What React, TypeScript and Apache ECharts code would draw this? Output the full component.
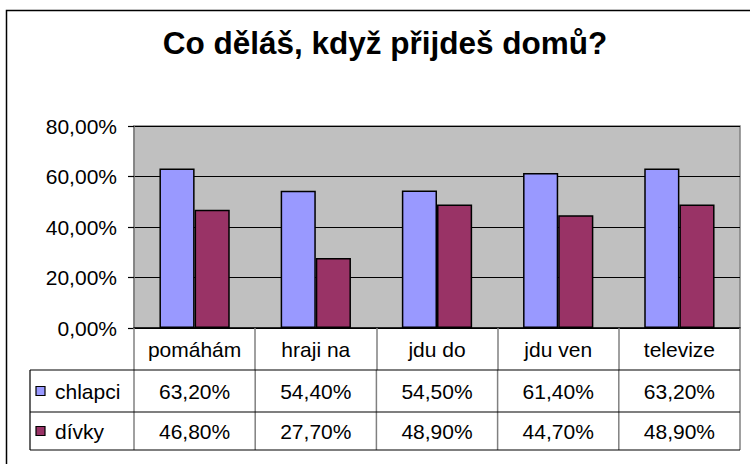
import React, { useEffect, useRef } from "react";
import * as echarts from "echarts";

const title = "Co děláš, když přijdeš domů?";
const categories = ["pomáhám", "hraji na", "jdu do", "jdu ven", "televize"];
const seriesNames = ["chlapci", "dívky"];
const chlapci = [63.2, 54.4, 54.5, 61.4, 63.2];
const divky = [46.8, 27.7, 48.9, 44.7, 48.9];
const colors = ["#9999FF", "#993366"];

const FONT = "'Liberation Sans', Arial, sans-serif";
const fmt = (v: number, d: number) => v.toFixed(d).replace(".", ",") + "%";

export default function App() {
  const ref = useRef<HTMLDivElement>(null);
  useEffect(() => {
    document.body.style.margin = "0";
    if (!ref.current) return;
    const chart = echarts.init(ref.current, null, { renderer: "svg" });

    const gL = 134, gT = 126, gW = 606, gH = 202;
    const gB = gT + gH;
    const tableLeft = 30;
    const rowLines = [gB + 42, gB + 84, gB + 122];
    const colW = gW / categories.length;
    const rows = [chlapci, divky];
    const fs = 21;

    const graphics: any[] = [];
    graphics.push({
      type: "rect",
      shape: { x: 6.5, y: 10.5, width: 800, height: 500 },
      style: { fill: "none", stroke: "#000", lineWidth: 1.5 },
      z: 0,
    });
    graphics.push({
      type: "text",
      x: 385,
      y: 43,
      style: {
        text: title,
        fill: "#000",
        font: `bold 31.5px ${FONT}`,
        textAlign: "center",
        textVerticalAlign: "middle",
      },
    });
    rowLines.forEach((y) => {
      graphics.push({
        type: "line",
        shape: { x1: tableLeft, y1: y, x2: gL + gW, y2: y },
        style: { stroke: "#000", lineWidth: 1.2 },
        z: 5,
      });
    });
    graphics.push({
      type: "line",
      shape: { x1: tableLeft, y1: rowLines[0], x2: tableLeft, y2: rowLines[2] },
      style: { stroke: "#000", lineWidth: 1.2 },
      z: 5,
    });
    for (let i = 0; i <= categories.length; i++) {
      const x = gL + i * colW;
      graphics.push({
        type: "line",
        shape: { x1: x, y1: rowLines[0], x2: x, y2: rowLines[2] },
        style: { stroke: "#808080", lineWidth: 1.5 },
        z: 4,
      });
    }
    rows.forEach((vals, r) => {
      const y0 = rowLines[r];
      const y1 = rowLines[r + 1];
      const cy = (y0 + y1) / 2;
      graphics.push({
        type: "rect",
        shape: { x: 36, y: cy - 4.5, width: 9, height: 9 },
        style: { fill: colors[r], stroke: "#000", lineWidth: 1.2 },
        z: 6,
      });
      graphics.push({
        type: "text",
        x: 55,
        y: cy,
        style: {
          text: seriesNames[r],
          fill: "#000",
          font: `${fs}px ${FONT}`,
          textAlign: "left",
          textVerticalAlign: "middle",
        },
        z: 6,
      });
      vals.forEach((v, i) => {
        graphics.push({
          type: "text",
          x: gL + (i + 0.5) * colW,
          y: cy,
          style: {
            text: fmt(v, 2),
            fill: "#000",
            font: `${fs}px ${FONT}`,
            textAlign: "center",
            textVerticalAlign: "middle",
          },
          z: 6,
        });
      });
    });

    chart.setOption({
      animation: false,
      backgroundColor: "#fff",
      grid: {
        left: gL,
        top: gT,
        width: gW,
        height: gH,
        show: true,
        backgroundColor: "#C0C0C0",
        borderColor: "#808080",
        borderWidth: 1.5,
      },
      xAxis: {
        type: "category",
        data: categories,
        axisLine: { show: true, lineStyle: { color: "#000", width: 1.5 } },
        axisTick: { show: true, interval: 0, length: 42, lineStyle: { color: "#808080", width: 1.5 } },
        axisLabel: {
          color: "#000",
          interval: 0,
          hideOverlap: false,
          fontSize: fs,
          fontFamily: FONT,
          margin: 21,
          verticalAlign: "middle",
        },
        splitLine: { show: false },
      },
      yAxis: {
        type: "value",
        min: 0,
        max: 80,
        interval: 20,
        axisLine: { show: true, lineStyle: { color: "#808080", width: 1.5 } },
        axisTick: { show: true, length: 6, lineStyle: { color: "#000", width: 1.2 } },
        axisLabel: {
          color: "#000",
          fontSize: fs,
          fontFamily: FONT,
          margin: 17,
          formatter: (v: number) => fmt(v, 2),
        },
        splitLine: { show: true, lineStyle: { color: "#000", width: 1.2 } },
      },
      series: [
        {
          name: seriesNames[0],
          type: "bar",
          data: chlapci,
          barGap: "0%",
          barCategoryGap: "42%",
          itemStyle: { color: colors[0], borderColor: "#000", borderWidth: 1.5 },
        },
        {
          name: seriesNames[1],
          type: "bar",
          data: divky,
          barGap: "0%",
          barCategoryGap: "42%",
          itemStyle: { color: colors[1], borderColor: "#000", borderWidth: 1.5 },
        },
      ],
      graphic: graphics,
    });
    return () => chart.dispose();
  }, []);
  return <div ref={ref} style={{ width: 750, height: 464 }} />;
}
